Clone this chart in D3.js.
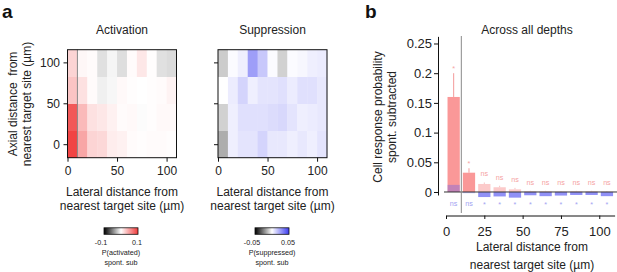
<!DOCTYPE html>
<html><head><meta charset="utf-8">
<script src="https://cdn.jsdelivr.net/npm/d3@7"></script>
<style>
html,body{margin:0;padding:0;background:#fff;}
svg{display:block;font-family:"Liberation Sans",Arial,Helvetica,sans-serif;}
</style></head><body>
<svg id="chart" width="617" height="272"></svg>
<script>
// ---------- DATA ----------
const lateralBins = [0,10,20,30,40,50,60,70,80,90,100];   // left edges (µm)
const axialBins = [0,33,66,99];                            // row centres (µm)
const activationMap = [ // rows: axial 0, 33, 66, 99
  [0.095,0.045,0.022,0.020,0.009,0.007,0.002,0.001,0.002,0.002,0.001],
  [0.085,0.035,0.015,0.012,0.007,0.002,0.003,-0.001,0.001,0.003,0.003],
  [0.030,0.015,0.002,-0.006,-0.003,0.003,0.001,0.000,0.001,0.002,0.006],
  [0.022,0.004,0.002,-0.012,-0.004,-0.013,0.002,0.012,0.001,-0.012,-0.014]
];
const suppressionMap = [
  [-0.016,0.004,0.007,0.007,0.011,0.006,0.006,0.004,0.006,0.004,0.007],
  [-0.009,0.004,0.008,0.008,0.008,0.009,0.010,0.007,0.004,0.005,0.006],
  [0.000,0.005,0.011,0.004,0.007,0.007,0.008,0.005,0.008,0.008,0.006],
  [-0.010,0.001,0.004,0.025,0.014,0.001,-0.009,0.001,0.002,0.004,0.005]
];
const heatTicks = [0,50,100];
const actColorTicks = [-0.1, 0.1];
const supColorTicks = [-0.05, 0.05];

const barCenters = [5,15,25,35,45,55,65,75,85,95,105];
const activationProb = [0.160,0.0325,0.0135,0.008,0.0045,0.001,0.001,0.0005,0.001,0.001,0.0005];
const activationErrTop = [0.200,0.040,0.016,0.0105,0.007,0.002,0.002,0.0015,0.002,0.002,0.0015];
const suppressionProb = [0.012,-0.002,-0.0085,-0.0075,-0.0095,-0.0055,-0.007,-0.006,-0.005,-0.005,-0.007];
const activationSig = ["*","*","ns","ns","ns","ns","ns","ns","ns","ns","ns"];
const suppressionSig = ["ns","ns","*","*","*","*","*","*","*","*","*"];
const barYTicks = [0,0.05,0.1,0.15,0.2,0.25];
const barXTicks = [0,25,50,75,100];

// ---------- DRAW ----------
const svg = d3.select("#chart");
const TXT = "#222";

svg.append("text").attr("x",2).attr("y",18).attr("font-size",19).attr("font-weight","bold").attr("fill","#111").text("a");
svg.append("text").attr("x",365).attr("y",18).attr("font-size",19).attr("font-weight","bold").attr("fill","#111").text("b");

const actColor = d3.scaleLinear().domain([-0.1,0,0.1]).range(["#000","#fff","#f03a3a"]);
const supColor = d3.scaleLinear().domain([-0.05,0,0.05]).range(["#000","#fff","#3c3cf0"]);
const yHeat = d3.scaleLinear().domain([-16.5,115.5]).range([157.7,49.7]);

function heatmap(data, xr, color, title, showYLabels, tenLine){
  const x = d3.scaleLinear().domain([0,110]).range(xr);
  const g = svg.append("g");
  data.forEach((row,r)=>{
    row.forEach((v,c)=>{
      g.append("rect")
        .attr("x", x(lateralBins[c])).attr("y", yHeat(axialBins[r]+16.5))
        .attr("width", x(lateralBins[c]+10)-x(lateralBins[c])+0.3)
        .attr("height", yHeat(axialBins[r]-16.5)-yHeat(axialBins[r]+16.5)+0.3)
        .attr("fill", color(v));
    });
  });
  if(tenLine){
    g.append("line").attr("x1",x(10)).attr("x2",x(10)).attr("y1",yHeat(115.5)).attr("y2",yHeat(-16.5))
      .attr("stroke","#8a8a8a").attr("stroke-width",1);
  }
  g.append("rect").attr("x",x(0)).attr("y",yHeat(115.5)).attr("width",x(110)-x(0)).attr("height",yHeat(-16.5)-yHeat(115.5))
    .attr("fill","none").attr("stroke","#111").attr("stroke-width",1);
  const xa = g.append("g").attr("transform",`translate(0,${yHeat(-16.5)})`)
    .call(d3.axisBottom(x).tickValues(heatTicks).tickSize(4).tickPadding(5).tickSizeOuter(0));
  xa.select(".domain").remove();
  xa.selectAll("text").attr("font-size",12).attr("fill",TXT).attr("font-family",null);
  const ya = g.append("g").attr("transform",`translate(${x(0)},0)`)
    .call(d3.axisLeft(yHeat).tickValues(heatTicks).tickSize(4).tickPadding(3.5).tickSizeOuter(0));
  ya.select(".domain").remove();
  ya.selectAll("text").attr("font-size",12).attr("fill",TXT).attr("font-family",null);
  if(!showYLabels) ya.selectAll("text").remove();
  g.selectAll(".tick line").attr("stroke","#111");
  const cx = (xr[0]+xr[1])/2;
  g.append("text").attr("x",cx).attr("y",33.5).attr("text-anchor","middle").attr("font-size",12).attr("fill",TXT).text(title);
  g.append("text").attr("x",cx).attr("y",195.5).attr("text-anchor","middle").attr("font-size",12).attr("fill",TXT).text("Lateral distance from");
  g.append("text").attr("x",cx).attr("y",209.5).attr("text-anchor","middle").attr("font-size",12).attr("fill",TXT).text("nearest target site (µm)");
}

heatmap(activationMap,[67.5,176.5],actColor,"Activation",true,true);
heatmap(suppressionMap,[218,327],supColor,"Suppression",false,false);

// y label for heatmap a
[["Axial distance\u00a0 from",16.5],["nearest target site (µm)",30.5]].forEach(([t,x])=>{
  svg.append("text").attr("transform",`translate(${x},104) rotate(-90)`).attr("text-anchor","middle")
    .attr("font-size",12).attr("fill",TXT).text(t);
});

// colorbars
const defs = svg.append("defs");
function colorbar(id, color, ticks, x0, x1, l1){
  const grad = defs.append("linearGradient").attr("id",id);
  d3.range(0,1.0001,0.1).forEach(t=>{
    grad.append("stop").attr("offset",t).attr("stop-color",color(ticks[0]+t*(ticks[1]-ticks[0])));
  });
  const s = d3.scaleLinear().domain(ticks).range([x0,x1]);
  svg.append("rect").attr("x",x0).attr("y",227.8).attr("width",x1-x0).attr("height",6.5)
    .attr("fill",`url(#${id})`).attr("stroke","#111").attr("stroke-width",0.8);
  ticks.forEach(t=>{
    svg.append("text").attr("x",s(t)+(t<0?-3:-1)).attr("y",245).attr("text-anchor","middle")
      .attr("font-size",7.2).attr("fill",TXT).text(String(t));
  });
  const cx=(x0+x1)/2;
  svg.append("text").attr("x",cx).attr("y",255).attr("text-anchor","middle").attr("font-size",7.2).attr("fill",TXT).text(l1);
  svg.append("text").attr("x",cx).attr("y",265).attr("text-anchor","middle").attr("font-size",7.2).attr("fill",TXT).text("spont. sub");
}
colorbar("gA", actColor, actColorTicks, 104, 138, "P(activated)");
colorbar("gS", supColor, supColorTicks, 255, 289, "P(suppressed)");

// ---------- panel b ----------
const xb = d3.scaleLinear().domain([0,110]).range([446,614.6]);
const yb = d3.scaleLinear().domain([-0.005,0.262]).range([194.97,36.37]);
const bw = xb(8)-xb(0);
const gb = svg.append("g");

gb.append("text").attr("x",527).attr("y",33.5).attr("text-anchor","middle").attr("font-size",12).attr("fill",TXT).text("Across all depths");

// red bars
gb.selectAll(".rb").data(barCenters).enter().append("rect")
  .attr("x",(d)=>xb(d)-bw/2).attr("width",bw)
  .attr("y",(d,i)=>yb(Math.max(0,activationProb[i])))
  .attr("height",(d,i)=>Math.abs(yb(activationProb[i])-yb(0)))
  .attr("fill",(d,i)=>activationSig[i]==="*"?"#fa9898":"#fccaca");
// red error bars
gb.selectAll(".re").data(barCenters).enter().append("line")
  .attr("x1",d=>xb(d)).attr("x2",d=>xb(d))
  .attr("y1",(d,i)=>yb(activationProb[i])).attr("y2",(d,i)=>yb(activationErrTop[i]))
  .attr("stroke",(d,i)=>activationSig[i]==="*"?"#f39a9a":"#f6c2c2").attr("stroke-width",1);
// blue bars
gb.selectAll(".bb").data(barCenters).enter().append("rect")
  .attr("x",(d)=>xb(d)-bw/2).attr("width",bw)
  .attr("y",(d,i)=>yb(Math.max(0,suppressionProb[i])))
  .attr("height",(d,i)=>Math.abs(yb(suppressionProb[i])-yb(0)))
  .attr("fill",(d,i)=>suppressionSig[i]==="*"?"rgba(70,70,240,0.6)":"rgba(90,90,240,0.35)");

// zero line
gb.append("line").attr("x1",444).attr("x2",617).attr("y1",yb(0)).attr("y2",yb(0)).attr("stroke","#333").attr("stroke-width",1);
// 10 µm line
gb.append("line").attr("x1",xb(10)).attr("x2",xb(10)).attr("y1",36).attr("y2",213).attr("stroke","#8a8a8a").attr("stroke-width",1);

// significance labels
gb.selectAll(".rs").data(barCenters).enter().append("text")
  .attr("x",d=>xb(d)).attr("y",(d,i)=>yb(activationErrTop[i])-(activationSig[i]==="*"?2.5:6))
  .attr("text-anchor","middle").attr("font-size",7.2).attr("fill","#f5a3a3")
  .text((d,i)=>activationSig[i]);
gb.selectAll(".bs").data(barCenters).enter().append("text")
  .attr("x",d=>xb(d)).attr("y",(d,i)=>suppressionSig[i]==="*"?207:205.5)
  .attr("text-anchor","middle").attr("font-size",7.2).attr("fill","#a3a3f2")
  .text((d,i)=>suppressionSig[i]);

// axes
const yax = gb.append("g").attr("transform","translate(438,0)")
  .call(d3.axisLeft(yb).tickValues(barYTicks).tickFormat(d=>String(d)).tickSize(4).tickPadding(2).tickSizeOuter(0));
yax.selectAll("text").attr("font-size",13).attr("fill",TXT).attr("font-family",null);
yax.selectAll("line,path").attr("stroke","#111");
const xax = gb.append("g").attr("transform","translate(0,215.5)")
  .call(d3.axisBottom(xb).tickValues(barXTicks).tickSize(3.5).tickPadding(7.3).tickSizeOuter(0));
xax.selectAll("text").attr("font-size",13).attr("fill",TXT).attr("font-family",null);
xax.selectAll("line,path").attr("stroke","#111");

gb.append("text").attr("x",532).attr("y",250.5).attr("text-anchor","middle").attr("font-size",12).attr("fill",TXT).text("Lateral distance from");
gb.append("text").attr("x",532).attr("y",268.5).attr("text-anchor","middle").attr("font-size",12).attr("fill",TXT).text("nearest target site (µm)");
[["Cell response probability",382],["spont. subtracted",396]].forEach(([t,x])=>{
  gb.append("text").attr("transform",`translate(${x},117) rotate(-90)`).attr("text-anchor","middle")
    .attr("font-size",12).attr("fill",TXT).text(t);
});
</script>
</body></html>
